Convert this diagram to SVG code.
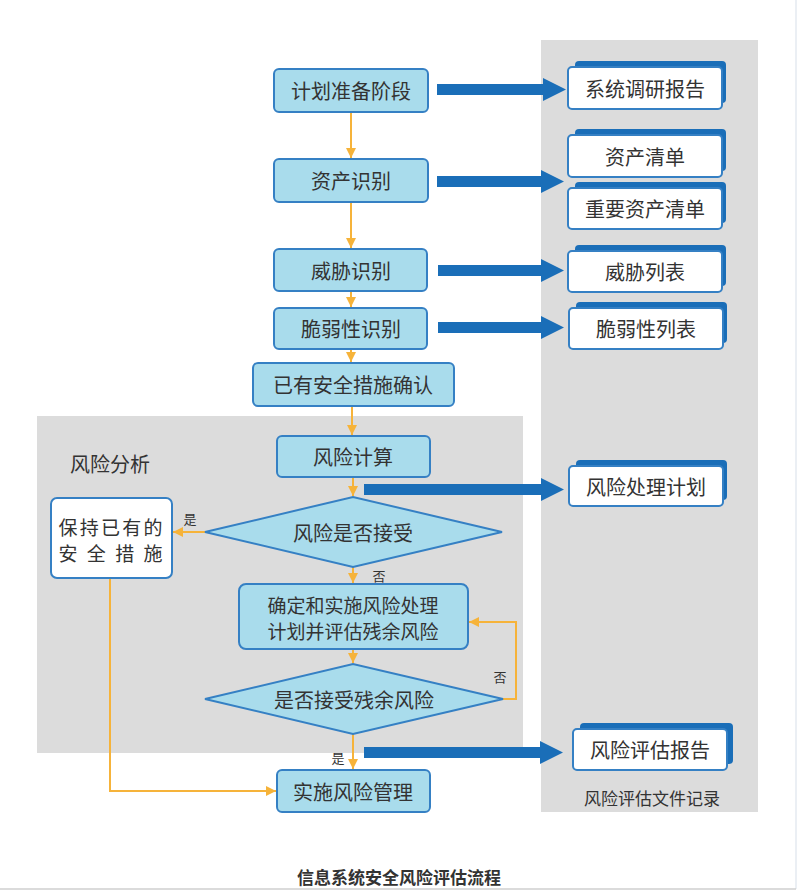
<svg xmlns="http://www.w3.org/2000/svg" width="800" height="892" viewBox="0 0 800 892">
<style>
.bg{fill:#dcdcdc}
.box{fill:#a9dcec;stroke:#3580c4;stroke-width:2}
.wbox{fill:#ffffff;stroke:#3580c4;stroke-width:2}
.shadow{fill:#1a6eb8}
.t{font-family:"Noto Sans CJK SC","Liberation Sans",sans-serif;font-size:20px;fill:#333;text-anchor:middle;dominant-baseline:central}
.t2{font-size:19px}
.s{font-family:"Noto Sans CJK SC","Liberation Sans",sans-serif;font-size:13px;fill:#333;text-anchor:middle;dominant-baseline:central}
.c{fill:none;stroke:#f6b33a;stroke-width:2}
.big{fill:#1a6eb8}
</style>
<defs>
<marker id="oa" viewBox="0 0 10 10" refX="10" refY="5" markerWidth="10" markerHeight="10" markerUnits="userSpaceOnUse" orient="auto">
<path d="M0,0 L10,5 L0,10 Z" fill="#f6b33a"/>
</marker>
</defs>
<rect width="800" height="892" fill="#ffffff"/>
<line x1="796" y1="0" x2="796" y2="889" stroke="#e4eaf0" stroke-width="1.5"/>
<line x1="0" y1="889" x2="796" y2="889" stroke="#cfcfcf" stroke-width="1.5"/>
<g id="panel-right">
<rect class="bg" x="541" y="40" width="217" height="772"/>
<text class="t" x="652" y="797" style="font-size:17px">风险评估文件记录</text>
</g>
<g id="panel-left">
<rect class="bg" x="37" y="416" width="486" height="337"/>
<text class="t" x="110" y="463" style="font-size:20px">风险分析</text>
</g>
<g id="connectors">
<line class="c" x1="351" y1="112" x2="351" y2="158" marker-end="url(#oa)"/>
<line class="c" x1="351" y1="202" x2="351" y2="248" marker-end="url(#oa)"/>
<line class="c" x1="351" y1="291" x2="351" y2="307" marker-end="url(#oa)"/>
<line class="c" x1="351" y1="349" x2="351" y2="362" marker-end="url(#oa)"/>
<line class="c" x1="352" y1="406" x2="352" y2="435" marker-end="url(#oa)"/>
<line class="c" x1="353" y1="477" x2="353" y2="496" marker-end="url(#oa)"/>
<line class="c" x1="353" y1="567" x2="353" y2="583" marker-end="url(#oa)"/>
<line class="c" x1="353" y1="649" x2="353" y2="663" marker-end="url(#oa)"/>
<line class="c" x1="353" y1="734" x2="353" y2="769" marker-end="url(#oa)"/>
<line class="c" x1="205" y1="532" x2="173" y2="532" marker-end="url(#oa)"/>
<polyline class="c" points="110,578 110,791 276,791" marker-end="url(#oa)"/>
<polyline class="c" points="503,699 516,699 516,622 469,622" marker-end="url(#oa)"/>
<text class="s" x="190" y="518">是</text>
<text class="s" x="379" y="575">否</text>
<text class="s" x="500" y="676">否</text>
<text class="s" x="338" y="757">是</text>
<path class="big" d="M437,84 H543 V78 L566,89.5 L543,101 V95 H437 Z"/>
<path class="big" d="M437,176 H541 V170 L564,181.5 L541,193 V187 H437 Z"/>
<path class="big" d="M438,265 H541 V259 L564,270.5 L541,282 V276 H438 Z"/>
<path class="big" d="M438,322 H541 V316 L564,327.5 L541,339 V333 H438 Z"/>
<path class="big" d="M364,484 H541 V478 L564,489.5 L541,501 V495 H364 Z"/>
<path class="big" d="M364,747 H540 V741 L563,752.5 L540,764 V758 H364 Z"/>
</g>
<g id="n1"><rect class="box" x="274" y="69" width="154" height="43" rx="5"/><text class="t" x="351" y="90.5">计划准备阶段</text></g>
<g id="n2"><rect class="box" x="274" y="159" width="154" height="43" rx="5"/><text class="t" x="351" y="180.5">资产识别</text></g>
<g id="n3"><rect class="box" x="274" y="249" width="153" height="42" rx="5"/><text class="t" x="351" y="270">威胁识别</text></g>
<g id="n4"><rect class="box" x="274" y="308" width="153" height="41" rx="5"/><text class="t" x="351" y="328.5">脆弱性识别</text></g>
<g id="n5"><rect class="box" x="253" y="363" width="201" height="43" rx="5"/><text class="t" x="353" y="384.5">已有安全措施确认</text></g>
<g id="n6"><rect class="box" x="277" y="436" width="153" height="41" rx="5"/><text class="t" x="353" y="456.5">风险计算</text></g>
<g id="d1"><polygon class="box" points="205,532 353,497 502,532 353,567"/><text class="t" x="353" y="532">风险是否接受</text></g>
<g id="n7"><rect class="wbox" x="51" y="498" width="121" height="80" rx="6"/><text class="t t2" x="110.5" y="526" textLength="104" lengthAdjust="spacing">保持已有的</text><text class="t t2" x="110.5" y="552" textLength="104" lengthAdjust="spacing">安全措施</text></g>
<g id="n8"><rect class="box" x="239" y="584" width="229" height="65" rx="7"/><text class="t t2" x="353" y="604">确定和实施风险处理</text><text class="t t2" x="353" y="630">计划并评估残余风险</text></g>
<g id="d2"><polygon class="box" points="205,699 353,664 503,699 353,734"/><text class="t" x="354" y="699">是否接受残余风险</text></g>
<g id="n9"><rect class="box" x="277" y="770" width="153" height="42" rx="5"/><text class="t" x="353" y="791">实施风险管理</text></g>
<g id="o1"><rect class="shadow" x="575" y="61" width="151" height="42" rx="4"/><rect class="wbox" x="568" y="67" width="154" height="42" rx="4"/><text class="t" x="645" y="88">系统调研报告</text></g>
<g id="o2"><rect class="shadow" x="575" y="129" width="151" height="42" rx="4"/><rect class="wbox" x="568" y="135" width="154" height="42" rx="4"/><text class="t" x="645" y="156">资产清单</text></g>
<g id="o3"><rect class="shadow" x="575" y="182" width="151" height="41" rx="4"/><rect class="wbox" x="568" y="188" width="154" height="41" rx="4"/><text class="t" x="645" y="208.5">重要资产清单</text></g>
<g id="o4"><rect class="shadow" x="575" y="245" width="151" height="41" rx="4"/><rect class="wbox" x="568" y="251" width="154" height="41" rx="4"/><text class="t" x="645" y="271.5">威胁列表</text></g>
<g id="o5"><rect class="shadow" x="576" y="302" width="151" height="41" rx="4"/><rect class="wbox" x="569" y="308" width="154" height="41" rx="4"/><text class="t" x="646" y="328.5">脆弱性列表</text></g>
<g id="o6"><rect class="shadow" x="576" y="460" width="151" height="40" rx="4"/><rect class="wbox" x="569" y="466" width="154" height="40" rx="4"/><text class="t" x="646" y="486">风险处理计划</text></g>
<g id="o7"><rect class="shadow" x="580" y="723" width="153" height="41" rx="4"/><rect class="wbox" x="573" y="729" width="154" height="41" rx="4"/><text class="t" x="650" y="749.5">风险评估报告</text></g>
<g id="title"><text class="t" x="399" y="876" style="font-size:17px;font-weight:bold">信息系统安全风险评估流程</text></g>
</svg>
